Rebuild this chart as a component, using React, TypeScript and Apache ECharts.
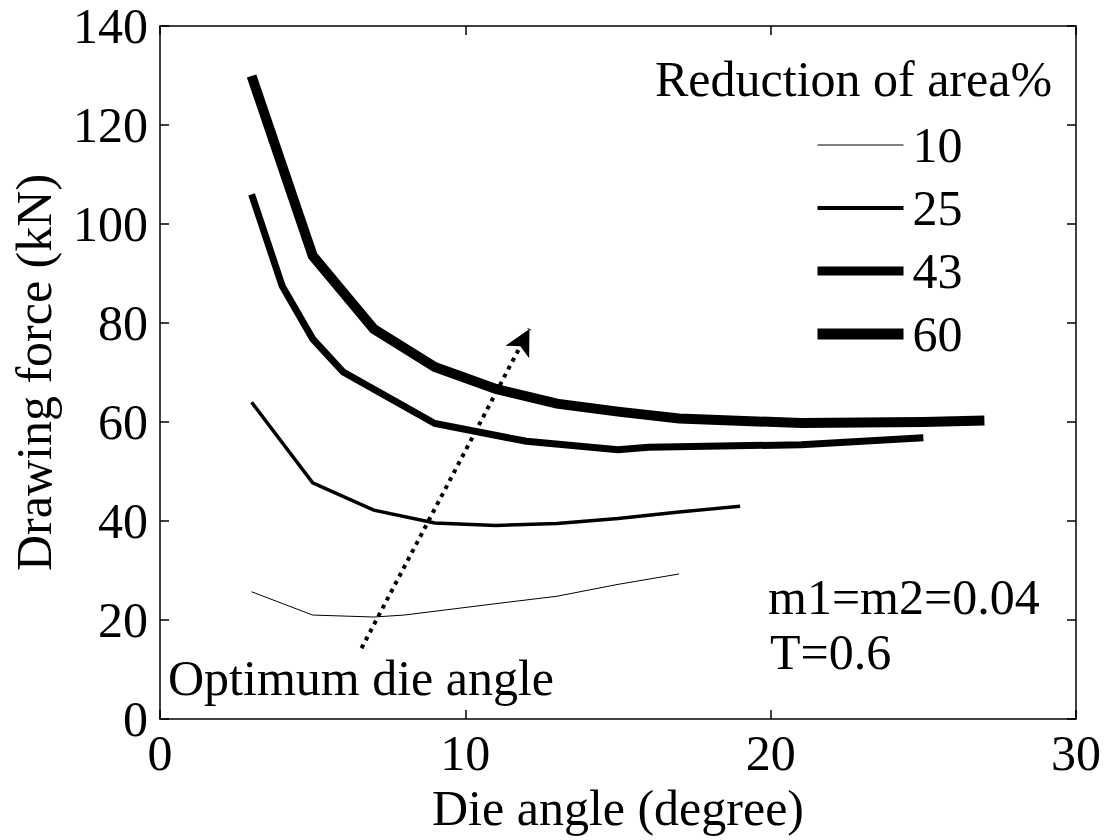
import React, { useEffect, useRef } from "react";
import * as echarts from "echarts";

const FONT = '"Liberation Serif", "Times New Roman", serif';

const seriesNames = ["10", "25", "43", "60"];
const lineWidths = [1, 3.5, 7, 10];
const legendWidths = [1, 4, 9, 11];

const s10: [number, number][] = [
  [3, 25.7], [5, 21.0], [7, 20.6], [8, 21.0], [11, 23.3], [13, 24.8], [15, 27.2], [17, 29.3],
];
const s25: [number, number][] = [
  [3, 64.0], [5, 47.7], [7, 42.2], [9, 39.6], [11, 39.1], [13, 39.5], [15, 40.5], [17, 41.8], [19, 43.0],
];
const s43: [number, number][] = [
  [3, 106], [4, 87.5], [5, 76.8], [6, 70.1], [9, 59.7], [12, 56.1], [15, 54.4], [16, 54.9], [21, 55.4], [25, 56.8],
];
const s60: [number, number][] = [
  [3, 129.9], [5, 93.6], [7, 78.8], [9, 71.1], [11, 66.7], [13, 63.7], [15, 62.1], [17, 60.7], [21, 59.8], [25, 60.0], [27, 60.3],
];
const allSeries = [s10, s25, s43, s60];

const arrowStart: [number, number] = [6.6, 14.3];
const arrowEnd: [number, number] = [12.1, 78.8];

const xTicks = { min: 0, max: 30, interval: 10 };
const yTicks = { min: 0, max: 140, interval: 20 };

const legendTitle = "Reduction of area%";
const noteLines = ["m1=m2=0.04", "T=0.6"];
const arrowLabel = "Optimum die angle";

export default function App() {
  const ref = useRef<HTMLDivElement>(null);
  useEffect(() => {
    if (!ref.current) return;
    const chart = echarts.init(ref.current, null, { renderer: "svg" });
    const axisLine = () => ({ show: true, onZero: false, lineStyle: { color: "#000", width: 1.5 } });
    const tick = () => ({ show: true, inside: true, length: 9, lineStyle: { color: "#000", width: 1.5 } });
    const series: any[] = allSeries.map((d, i) => ({
      type: "line",
      name: seriesNames[i],
      data: d,
      symbol: "none",
      lineStyle: { color: "#000", width: lineWidths[i], join: "miter" },
      itemStyle: { color: "#000" },
      z: 3,
    }));
    series.push({
      type: "line",
      name: "arrow",
      data: [],
      symbol: "none",
      markLine: {
        silent: true,
        symbol: ["none", "arrow"],
        symbolSize: [20, 26],
        label: { show: false },
        lineStyle: { color: "#000", width: 4, type: [4, 5] },
        data: [[{ coord: arrowStart }, { coord: arrowEnd }]],
      },
      z: 4,
    });
    chart.setOption({
      animation: false,
      backgroundColor: "#fff",
      textStyle: { fontFamily: FONT, color: "#000" },
      grid: { left: 160, right: 34, top: 26, bottom: 121, containLabel: false, outerBoundsMode: "none" },
      legend: {
        data: seriesNames.map((n, i) => ({ name: n, lineStyle: { width: legendWidths[i], color: "#000" } })),
        orient: "vertical",
        left: 807,
        top: 115,
        itemWidth: 86,
        itemHeight: 14,
        itemGap: 13,
        itemStyle: { opacity: 0 },
        lineStyle: { width: "inherit" },
        textStyle: { fontFamily: FONT, fontSize: 50, lineHeight: 50, color: "#000", padding: [0, 0, 0, 4] },
      },
      xAxis: [
        {
          type: "value", ...xTicks, position: "bottom",
          name: "Die angle (degree)", nameLocation: "middle", nameGap: 57,
          nameTextStyle: { fontFamily: FONT, fontSize: 50, color: "#000" },
          axisLine: axisLine(), axisTick: tick(), splitLine: { show: false },
          axisLabel: { fontFamily: FONT, fontSize: 50, lineHeight: 36, color: "#000", margin: 16 },
        },
        {
          type: "value", ...xTicks, position: "top",
          axisLine: axisLine(), axisTick: tick(), splitLine: { show: false }, axisLabel: { show: false },
        },
      ],
      yAxis: [
        {
          type: "value", ...yTicks, position: "left",
          name: "Drawing force (kN)", nameLocation: "middle", nameGap: 104,
          nameTextStyle: { fontFamily: FONT, fontSize: 50, lineHeight: 44, color: "#000" },
          axisLine: axisLine(), axisTick: tick(), splitLine: { show: false },
          axisLabel: { fontFamily: FONT, fontSize: 50, lineHeight: 36, color: "#000", margin: 12 },
        },
        {
          type: "value", ...yTicks, position: "right",
          axisLine: axisLine(), axisTick: tick(), splitLine: { show: false }, axisLabel: { show: false },
        },
      ],
      graphic: [
        { type: "text", left: 655, top: 54, style: { text: legendTitle, font: `50px ${FONT}`, fill: "#000" }, z: 10 },
        { type: "text", left: 768, top: 572, style: { text: noteLines[0], font: `50px ${FONT}`, fill: "#000" }, z: 10 },
        { type: "text", left: 770, top: 627, style: { text: noteLines[1], font: `50px ${FONT}`, fill: "#000" }, z: 10 },
        { type: "text", left: 168, top: 653, style: { text: arrowLabel, font: `50px ${FONT}`, fill: "#000" }, z: 10 },
      ],
      series,
    });
    return () => chart.dispose();
  }, []);
  return <div ref={ref} style={{ position: "fixed", left: 0, top: 0, width: 1110, height: 840 }} />;
}
